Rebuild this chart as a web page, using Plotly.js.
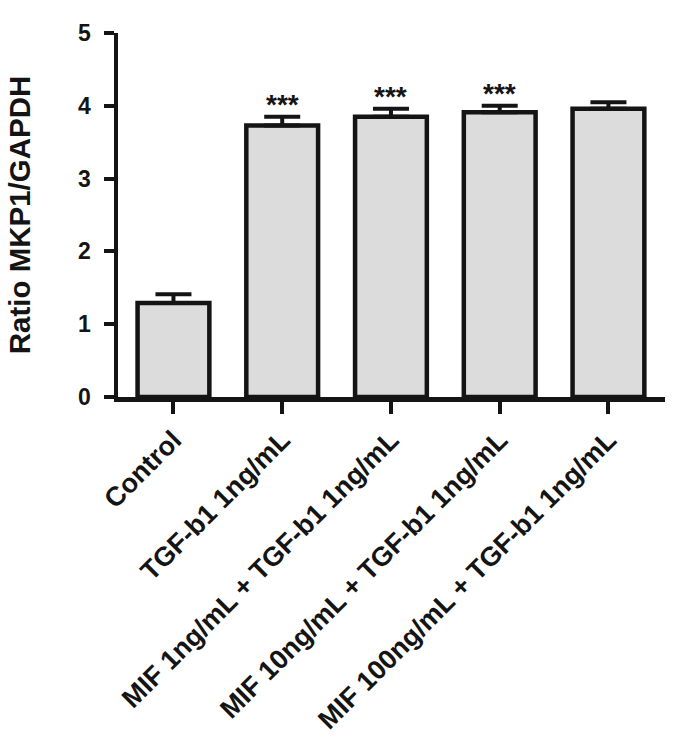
<!DOCTYPE html>
<html>
<head>
<meta charset="utf-8">
<script src="https://cdn.plot.ly/plotly-3.0.1.min.js"></script>
<style>html,body{margin:0;padding:0;background:#fff}#chart{width:676px;height:747px}</style>
</head>
<body>
<div id="chart"></div>
<script>
const categories = ["Control", "TGF-b1 1ng/mL", "MIF 1ng/mL + TGF-b1 1ng/mL", "MIF 10ng/mL + TGF-b1 1ng/mL", "MIF 100ng/mL + TGF-b1 1ng/mL"];
const values = [1.29, 3.73, 3.85, 3.91, 3.96];
const errors = [0.12, 0.12, 0.11, 0.09, 0.09];
const significance = ["", "***", "***", "***", ""];
const yTicks = [0, 1, 2, 3, 4, 5];

const font = "Liberation Sans, Arial, sans-serif";
const ink = "#141414";
const trace = {
  type: "bar",
  x: categories,
  y: values,
  width: 0.66,
  marker: {color: "#dcdcdc", line: {color: ink, width: 4.5}},
  error_y: {type: "data", array: errors, arrayminus: errors.map(() => 0), symmetric: false,
            color: ink, thickness: 4, width: 18},
  hoverinfo: "none"
};

const annotations = categories.map((c, i) => significance[i] ? {
  x: c, y: values[i] + errors[i], yanchor: "middle", yshift: 12, text: significance[i],
  showarrow: false, font: {family: font, size: 28, color: ink, weight: "bold"}
} : null).filter(a => a);

const layout = {
  width: 676, height: 747,
  margin: {l: 118, r: 11, t: 33, b: 350},
  paper_bgcolor: "#fff", plot_bgcolor: "#fff",
  showlegend: false,
  xaxis: {
    type: "category", range: [-0.51, 4.52],
    showline: true, linecolor: ink, linewidth: 4.5,
    ticks: "outside", ticklen: 12, tickwidth: 4, tickcolor: ink,
    tickangle: -45, showgrid: false, zeroline: false,
    tickfont: {family: font, size: 27, color: ink, weight: "bold"}
  },
  yaxis: {
    range: [0, 5], tickvals: yTicks, ticktext: yTicks.map(String),
    showline: true, linecolor: ink, linewidth: 4.5,
    ticks: "outside", ticklen: 10, tickwidth: 4, tickcolor: ink,
    ticklabelstandoff: 8,
    showgrid: false, zeroline: false,
    tickfont: {family: font, size: 23, color: ink, weight: "bold"},
    title: {text: "Ratio MKP1/GAPDH", standoff: 40, font: {family: font, size: 29.5, color: ink, weight: "bold"}}
  },
  annotations: annotations
};

Plotly.newPlot("chart", [trace], layout, {staticPlot: true});
</script>
</body>
</html>
